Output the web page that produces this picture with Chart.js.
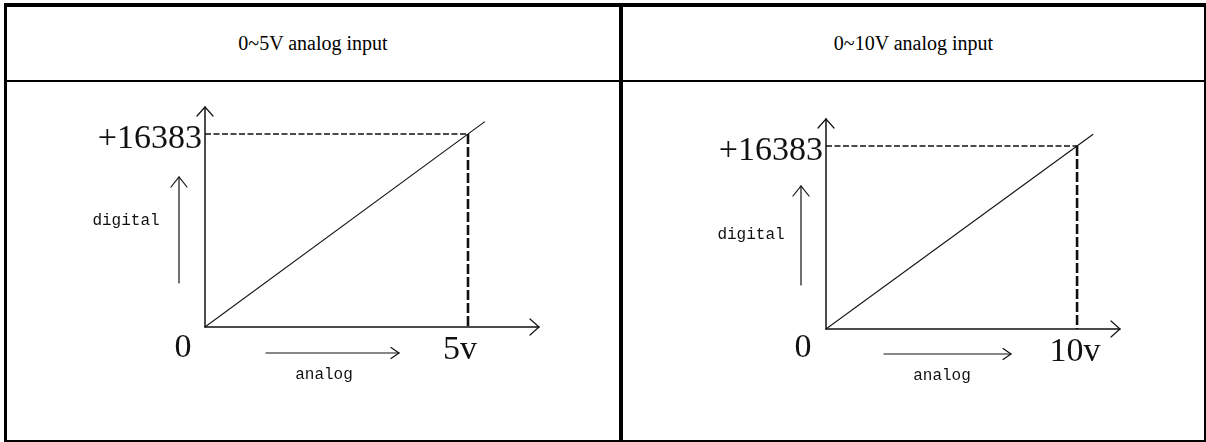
<!DOCTYPE html>
<html>
<head>
<meta charset="utf-8">
<script src="https://cdn.jsdelivr.net/npm/chart.js@4.4.0/dist/chart.umd.min.js"></script>
<style>
  html, body { margin: 0; padding: 0; background: #fff; }
  #page { position: relative; width: 1206px; height: 442px; overflow: hidden; background: #fff; }
  .rule { position: absolute; background: #000; }
  .head {
    position: absolute; top: 7px; height: 73px;
    display: flex; align-items: center; justify-content: center;
    font-family: "Liberation Serif", "Times New Roman", serif; font-size: 20px; color: #000;
  }
  canvas { position: absolute; }
</style>
</head>
<body>
<div id="page">
  <div class="head" style="left:7px;width:612px">0~5V analog input</div>
  <div class="head" style="left:623px;width:581px">0~10V analog input</div>

  <canvas id="chart5" width="612" height="358" style="left:7px;top:82px"></canvas>
  <canvas id="chart10" width="581" height="358" style="left:623px;top:82px"></canvas>

  <!-- bordas da tabela -->
  <div class="rule" style="left:4px;top:3px;width:1202px;height:4px"></div>
  <div class="rule" style="left:4px;top:3px;width:3px;height:439px"></div>
  <div class="rule" style="left:1204px;top:3px;width:2px;height:439px"></div>
  <div class="rule" style="left:4px;top:440px;width:1202px;height:2px"></div>
  <div class="rule" style="left:4px;top:80px;width:1202px;height:2px"></div>
  <div class="rule" style="left:619px;top:3px;width:4px;height:439px"></div>
</div>

<script>
// ------------------- dados -------------------
// 0~5V
const volts5 = [0, 5];            // faixa analógica
const counts5 = [0, 16383];       // faixa digital
const line5X = [0, 5.32];         // a reta passa um pouco do fundo de escala
const line5Y = [0, 17430];
const axisMax5 = [6.35, 18675];   // até a ponta das setas
const labels5 = ['0', '5v', '+16383'];

// 0~10V
const volts10 = [0, 10];
const counts10 = [0, 16383];
const line10X = [0, 10.64];
const line10Y = [0, 17430];
const axisMax10 = [11.71, 18800];
const labels10 = ['0', '10v', '+16383'];

const axisNames = ['digital', 'analog'];

// ------------------- helpers de desenho -------------------
function seg(ctx, x1, y1, x2, y2) {
  ctx.beginPath();
  ctx.moveTo(x1, y1);
  ctx.lineTo(x2, y2);
  ctx.stroke();
}

// seta aberta (tipo chevron) na ponta (x, y)
function arrowHead(ctx, x, y, dir, back, half) {
  ctx.beginPath();
  if (dir === 'up') {
    ctx.moveTo(x - half, y + back); ctx.lineTo(x, y); ctx.lineTo(x + half, y + back);
  } else {
    ctx.moveTo(x - back, y - half); ctx.lineTo(x, y); ctx.lineTo(x - back, y + half);
  }
  ctx.stroke();
}

const diagrama = {
  id: 'diagrama',
  afterDatasetsDraw(chart, args, opts) {
    const { ctx, scales: { x, y } } = chart;
    const ox = x.getPixelForValue(0);
    const oy = y.getPixelForValue(0);
    const xEnd = x.getPixelForValue(x.max);
    const yEnd = y.getPixelForValue(y.max);
    const fx = x.getPixelForValue(opts.full[0]);
    const fy = y.getPixelForValue(opts.full[1]);
    const d = opts.deco;

    ctx.save();
    ctx.strokeStyle = '#111';
    ctx.lineCap = 'round';

    // eixos
    ctx.lineWidth = 1.5;
    seg(ctx, ox, oy, xEnd, oy);
    seg(ctx, ox, oy, ox, yEnd);
    ctx.lineWidth = 1.2;
    arrowHead(ctx, xEnd, oy, 'right', 9, 8);
    arrowHead(ctx, ox, yEnd, 'up', 9, 8);

    // setinha do "digital"
    seg(ctx, ox + d.upArrow[0], oy + d.upArrow[1], ox + d.upArrow[0], oy + d.upArrow[2]);
    arrowHead(ctx, ox + d.upArrow[0], oy + d.upArrow[2], 'up', 10, 8);

    // setinha do "analog"
    seg(ctx, ox + d.rightArrow[0], oy + d.rightArrow[2], ox + d.rightArrow[1], oy + d.rightArrow[2]);
    arrowHead(ctx, ox + d.rightArrow[1], oy + d.rightArrow[2], 'right', 8, 5.5);

    // textos
    ctx.fillStyle = '#111';
    ctx.textBaseline = 'alphabetic';
    ctx.font = '34px "Liberation Serif", "Times New Roman", serif';
    ctx.textAlign = 'right';
    ctx.fillText(opts.labels[2], ox - 3, fy + 14);
    ctx.textAlign = 'center';
    ctx.fillText(opts.labels[0], ox + d.zero[0], oy + d.zero[1]);
    ctx.fillText(opts.labels[1], fx + d.volt[0], oy + d.volt[1]);

    ctx.font = '16px "Liberation Mono", "DejaVu Sans Mono", monospace';
    ctx.fillText(axisNames[0], ox + d.digital[0], oy + d.digital[1]);
    ctx.fillText(axisNames[1], ox + d.analog[0], oy + d.analog[1]);
    ctx.restore();
  }
};

const zip = (xs, ys) => xs.map((v, i) => ({ x: v, y: ys[i] }));

function makeChart(id, volts, counts, lineX, lineY, axisMax, labels, padding, deco) {
  const canvas = document.getElementById(id);
  const full = [volts[1], counts[1]];
  return new Chart(canvas.getContext('2d'), {
    type: 'line',
    data: {
      datasets: [
        { // reta de conversão
          data: zip(lineX, lineY),
          borderColor: '#111', borderWidth: 1.1, pointRadius: 0, tension: 0,
        },
        { // tracejado horizontal até o eixo y
          data: [{ x: volts[0], y: counts[1] }, { x: volts[1], y: counts[1] }],
          borderColor: '#111', borderWidth: 1.3, borderDash: [6, 2.5], pointRadius: 0,
        },
        { // tracejado vertical (mais grosso)
          data: [{ x: volts[1], y: counts[1] }, { x: volts[1], y: counts[0] }],
          borderColor: '#111', borderWidth: 2.6, borderDash: [10, 3], pointRadius: 0,
        },
      ]
    },
    options: {
      responsive: false,
      animation: false,
      devicePixelRatio: 1,
      layout: { padding },
      plugins: {
        legend: { display: false },
        tooltip: { enabled: false },
        diagrama: { full, labels, deco },
      },
      scales: {
        x: { type: 'linear', min: 0, max: axisMax[0], display: false },
        y: { type: 'linear', min: 0, max: axisMax[1], display: false },
      }
    },
    plugins: [diagrama]
  });
}

makeChart('chart5', volts5, counts5, line5X, line5Y, axisMax5, labels5,
  { left: 198, top: 25, right: 80, bottom: 113 },
  {
    zero: [-22, 30], volt: [-8, 32],
    digital: [-79, -102], analog: [119, 52],
    upArrow: [-26, -44, -150], rightArrow: [61, 194, 26],
  });

makeChart('chart10', volts10, counts10, line10X, line10Y, axisMax10, labels10,
  { left: 203, top: 37, right: 84, bottom: 111 },
  {
    zero: [-23, 28], volt: [-2, 32],
    digital: [-75, -90], analog: [116, 51],
    upArrow: [-25, -44, -143], rightArrow: [58, 185, 25],
  });
</script>
</body>
</html>
